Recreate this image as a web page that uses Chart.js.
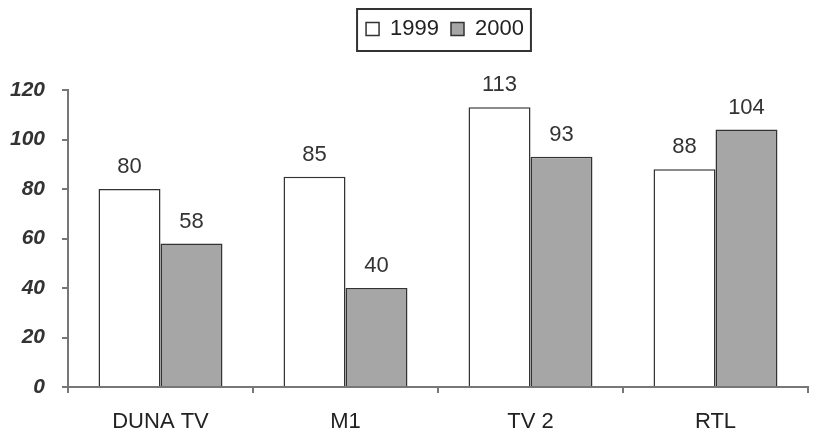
<!DOCTYPE html>
<html>
<head>
<meta charset="utf-8">
<script src="https://cdn.jsdelivr.net/npm/chart.js@4"></script>
<style>
  body { margin: 0; background: #fff; }
  #wrap { width: 817px; height: 432px; }
</style>
</head>
<body>
<div id="wrap"><canvas id="tvChart"></canvas></div>
<script>
// Channels and yearly values
const channels = ['DUNA TV', 'M1', 'TV 2', 'RTL'];
const values1999 = [80, 85, 113, 88];
const values2000 = [58, 40, 93, 104];
const yTicks = [0, 20, 40, 60, 80, 100, 120];

const FONT = '"Liberation Sans", Arial, sans-serif';

// Give the legend its own band at the top and nudge it right
const legendPlace = {
    id: 'legendPlace',
    beforeInit(chart) {
        const fit = chart.legend.fit;
        chart.legend.fit = function () {
            fit.bind(chart.legend)();
            this.height = 84;
        };
    },
    afterLayout(chart) {
        chart.legend.left += 38;
        chart.legend.right += 38;
    }
};

// Framed legend like the original
const legendFrame = {
    id: 'legendFrame',
    afterDraw(chart) {
        const boxes = chart.legend.legendHitBoxes;
        if (!boxes || !boxes.length) return;
        const left = Math.min(...boxes.map(b => b.left));
        const right = Math.max(...boxes.map(b => b.left + b.width));
        const top = Math.min(...boxes.map(b => b.top));
        const bottom = Math.max(...boxes.map(b => b.top + b.height));
        const ctx = chart.ctx;
        ctx.save();
        ctx.strokeStyle = '#333';
        ctx.lineWidth = 2;
        ctx.strokeRect(left - 9, top - 9, right - left + 16, bottom - top + 20);
        ctx.restore();
    }
};

// Values written above each bar
const barValues = {
    id: 'barValues',
    afterDatasetsDraw(chart) {
        const ctx = chart.ctx;
        ctx.save();
        ctx.font = '22px ' + FONT;
        ctx.fillStyle = '#333';
        ctx.textAlign = 'center';
        ctx.textBaseline = 'bottom';
        chart.data.datasets.forEach((ds, i) => {
            chart.getDatasetMeta(i).data.forEach((bar, j) => {
                ctx.fillText(ds.data[j], bar.x, bar.y - 11);
            });
        });
        ctx.restore();
    }
};

new Chart(document.getElementById('tvChart').getContext('2d'), {
    type: 'bar',
    data: {
        labels: channels,
        datasets: [
            {
                label: '1999',
                data: values1999,
                backgroundColor: '#ffffff',
                borderColor: '#333',
                borderWidth: 1.5,
                categoryPercentage: 0.67,
                barPercentage: 1.0
            },
            {
                label: '2000',
                data: values2000,
                backgroundColor: '#a6a6a6',
                borderColor: '#333',
                borderWidth: 1.5,
                categoryPercentage: 0.67,
                barPercentage: 1.0
            }
        ]
    },
    options: {
        responsive: true,
        maintainAspectRatio: false,
        animation: false,
        layout: { padding: { top: 6, left: 6, right: 9, bottom: 0 } },
        plugins: {
            legend: {
                position: 'top',
                labels: {
                    boxWidth: 13,
                    boxHeight: 13,
                    padding: 12,
                    color: '#222',
                    font: { size: 22, family: FONT }
                }
            },
            tooltip: { enabled: false }
        },
        scales: {
            x: {
                afterFit(scale) { scale.height = 45; },
                grid: {
                    offset: true,
                    drawOnChartArea: false,
                    tickLength: 6,
                    color: '#777',
                    lineWidth: 2
                },
                border: { color: '#777', width: 2 },
                ticks: {
                    color: '#222',
                    padding: 16,
                    font: { size: 22, family: FONT }
                }
            },
            y: {
                min: yTicks[0],
                max: yTicks[yTicks.length - 1],
                afterFit(scale) { scale.width = 62; },
                afterBuildTicks(axis) {
                    axis.ticks = yTicks.map(v => ({ value: v }));
                },
                grid: {
                    drawOnChartArea: false,
                    tickLength: 6,
                    color: '#777',
                    lineWidth: 2
                },
                border: { color: '#777', width: 2 },
                ticks: {
                    color: '#333',
                    padding: 17,
                    font: { size: 21, family: FONT, style: 'italic', weight: 'bold' }
                }
            }
        }
    },
    plugins: [legendPlace, legendFrame, barValues]
});
</script>
</body>
</html>
